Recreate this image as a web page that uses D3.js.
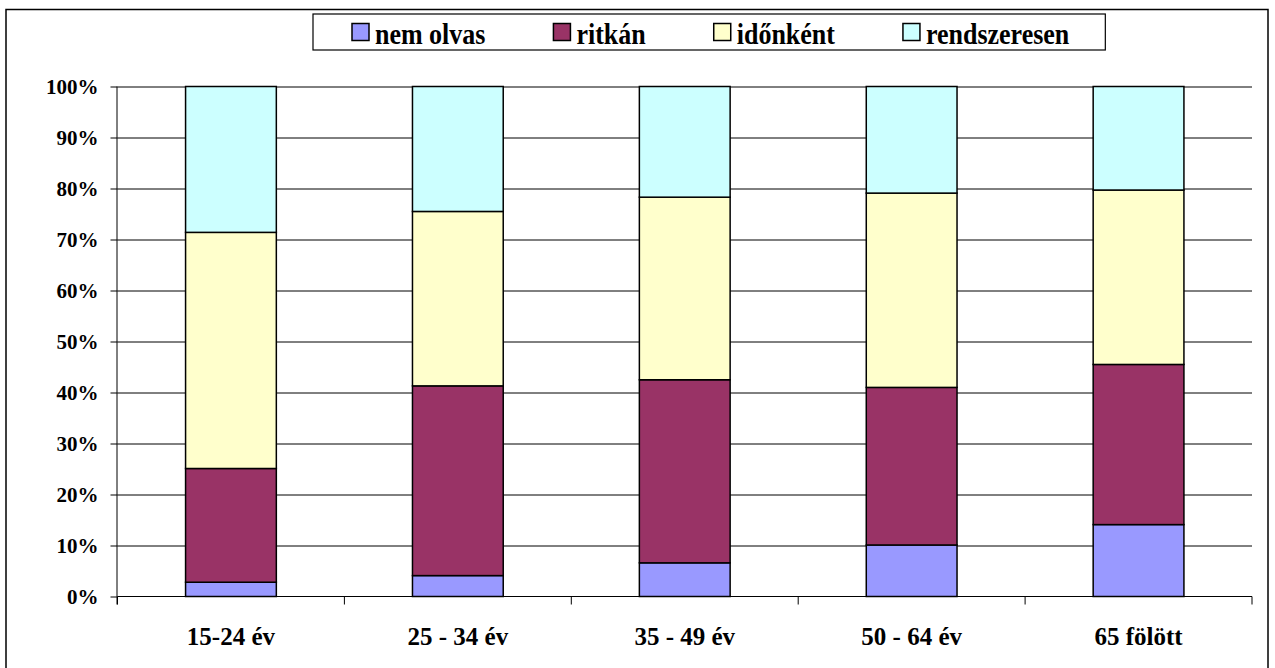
<!DOCTYPE html>
<html>
<head>
<meta charset="utf-8">
<script src="https://cdn.jsdelivr.net/npm/d3@7"></script>
<style>
  body { margin: 0; background: #fff; }
</style>
</head>
<body>
<div id="chart-wrapper"></div>
<script>
let width = 1275
let height = 668
let serif = "'Liberation Serif', 'Times New Roman', Times, serif"

let categories = ["15-24 év", "25 - 34 év", "35 - 49 év", "50 - 64 év", "65 fölött"]
let seriesNames = ["nem olvas", "ritkán", "időnként", "rendszeresen"]
let colors = ["#9999ff", "#993366", "#ffffcc", "#ccffff"]

// percentages per age group
let nemOlvas     = [2.8, 4.1, 6.6, 10.1, 14.1]
let ritkan       = [22.3, 37.2, 35.9, 30.9, 31.4]
let idonkent     = [46.3, 34.2, 35.8, 38.1, 34.2]
let rendszeresen = [28.6, 24.5, 21.7, 20.9, 20.3]

let yTicks = [0, 10, 20, 30, 40, 50, 60, 70, 80, 90, 100]

let table = categories.map((c, i) => ({
  cat: c,
  "nem olvas": nemOlvas[i],
  "ritkán": ritkan[i],
  "időnként": idonkent[i],
  "rendszeresen": rendszeresen[i]
}))

let margin = {top: 86.5, right: 23, bottom: 71.5, left: 117.5}
let graphWidth = width - margin.left - margin.right
let graphHeight = height - margin.top - margin.bottom

let svg = d3
  .select("#chart-wrapper")
  .append("svg")
  .attr("width", width)
  .attr("height", height)
  .attr("font-family", serif)
  .attr("font-weight", "bold")

// outer frame
svg.append("rect")
  .attr("x", 6).attr("y", 9.5)
  .attr("width", 1262).attr("height", 670)
  .attr("fill", "none")
  .attr("stroke", "#000")
  .attr("stroke-width", 1.5)

let graph = svg
  .append("g")
  .attr("transform", `translate(${margin.left},${margin.top})`)

let x = d3
  .scaleBand()
  .domain(categories)
  .range([0, graphWidth])
  .paddingInner(0.6)
  .paddingOuter(0.3)

let y = d3
  .scaleLinear()
  .domain([0, 100])
  .range([graphHeight, 0])

// gridlines
graph.append("g")
  .selectAll("line")
  .data(yTicks.slice(1))
  .enter()
  .append("line")
  .attr("x1", 0)
  .attr("x2", graphWidth)
  .attr("y1", d => Math.round(y(d)) + 0.5)
  .attr("y2", d => Math.round(y(d)) + 0.5)
  .attr("stroke", "#000")
  .attr("stroke-width", 1)

// stacked bars
let stack = d3.stack().keys(seriesNames)(table)

graph.append("g")
  .selectAll("g")
  .data(stack)
  .enter()
  .append("g")
  .attr("fill", (d, i) => colors[i])
  .selectAll("rect")
  .data(d => d)
  .enter()
  .append("rect")
  .attr("x", d => x(d.data.cat))
  .attr("y", d => y(d[1]))
  .attr("width", x.bandwidth())
  .attr("height", d => y(d[0]) - y(d[1]))
  .attr("stroke", "#000")
  .attr("stroke-width", 1.5)

// Y Axis
let yAxis = d3
  .axisLeft(y)
  .tickValues(yTicks)
  .tickFormat(d => d + "%")
  .tickSize(7)
  .tickPadding(12)
graph.append("g")
  .attr("class", "yAxis")
  .call(yAxis)

// X Axis: ticks sit between the categories
let step = graphWidth / categories.length
let xEdges = d3.range(categories.length + 1).map(i => i * step)
let xAxisG = graph.append("g")
  .attr("class", "xAxis")
  .attr("transform", `translate(0,${graphHeight})`)
xAxisG.append("line")
  .attr("x1", 0).attr("x2", graphWidth)
  .attr("y1", 0).attr("y2", 0)
  .attr("stroke", "#000")
xAxisG.selectAll(".edge")
  .data(xEdges)
  .enter()
  .append("line")
  .attr("class", "edge")
  .attr("x1", d => d).attr("x2", d => d)
  .attr("y1", 0).attr("y2", 8)
  .attr("stroke", "#000")
xAxisG.selectAll("text")
  .data(categories)
  .enter()
  .append("text")
  .attr("x", d => x(d) + x.bandwidth() / 2)
  .attr("y", 48)
  .attr("text-anchor", "middle")
  .attr("font-size", 25)
  .attr("fill", "#000")
  .text(d => d)

// Style
d3.selectAll(".yAxis").attr("font-family", serif).attr("font-weight", "bold")
d3.selectAll(".yAxis text").attr("font-size", 21).attr("dy", "0.34em").attr("fill", "#000")
d3.selectAll(".yAxis path").attr("stroke", "#000").attr("d", `M-0.5,${graphHeight + 8}V0`)
d3.selectAll(".yAxis line").attr("stroke", "#000")

// Legend
let legend = svg.append("g").attr("transform", "translate(313,14)")
let legendBox = legend.append("rect")
  .attr("fill", "#fff")
  .attr("stroke", "#000")
  .attr("stroke-width", 1.2)
  .attr("height", 36)
let cursor = 39
seriesNames.forEach((name, i) => {
  let item = legend.append("g").attr("transform", `translate(${cursor},0)`)
  item.append("rect")
    .attr("x", 0).attr("y", 9.5)
    .attr("width", 17).attr("height", 17)
    .attr("fill", colors[i])
    .attr("stroke", "#000")
    .attr("stroke-width", 1.5)
  let t = item.append("text")
    .attr("transform", "translate(23,29.5) scale(1,1.15)")
    .attr("font-size", 26)
    .attr("fill", "#000")
    .text(name)
  cursor += 23 + t.node().getComputedTextLength() + 68
})
legendBox.attr("width", cursor - 68 + 36)
</script>
</body>
</html>
